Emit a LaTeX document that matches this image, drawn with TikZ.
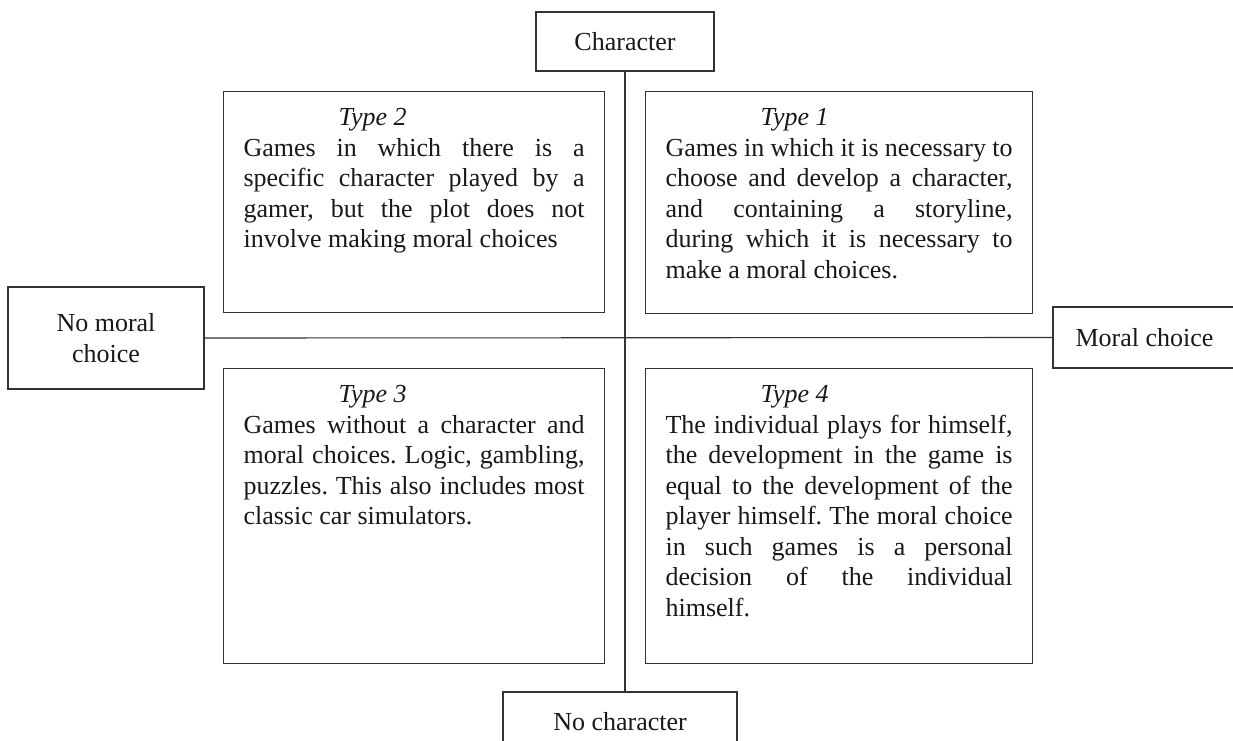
\documentclass[tikz,border=0pt]{standalone}
\usepackage{fontspec}
\setmainfont{Liberation Serif}
\begin{document}
\begin{tikzpicture}[x=1pt,y=-1pt,
  lbl/.style={draw=black!80, line width=1.1pt, inner sep=0pt, align=center,
    font=\fontsize{26}{30.5}\selectfont, text=black!90},
  typebox/.style={draw=black!80, line width=1.1pt, inner xsep=20pt, inner ysep=0pt,
    anchor=north west, font=\fontsize{26}{30.5}\selectfont, text=black!90},
  axis/.style={draw=black!80, line width=1.1pt}]
\useasboundingbox (0,0) rectangle (1233,740);
\clip (0,0) rectangle (1233,740);
\fill[white] (0,0) rectangle (1233,740);

\node[lbl, minimum width=178pt, minimum height=59pt] (char) at (625,41.5) {Character};
\node[lbl, minimum width=234pt, minimum height=59pt] (nochar) at (620,721.5) {No character};
\node[lbl, minimum width=196pt, minimum height=102pt] (nomoral) at (106,338) {No moral\\choice};
\node[lbl, minimum width=183pt, minimum height=61pt] (moral) at (1144.5,337.5) {Moral choice};

\draw[axis] (char.south) -- (char.south |- nochar.north);
\draw[axis] (nomoral.east) -- (moral.west);

\node[typebox] (t2) at (223,91) {\parbox[c][221pt][t]{341pt}{\hyphenpenalty=10000\tolerance=10000\frenchspacing
\rule{0pt}{34pt}\hspace*{95pt}\textit{Type 2}\\
Games in which there is a\linebreak specific character played by a\linebreak gamer, but the plot does not\linebreak involve making moral choices}};

\node[typebox] (t1) at (645,91) {\parbox[c][222pt][t]{347pt}{\hyphenpenalty=10000\tolerance=10000\frenchspacing
\rule{0pt}{34pt}\hspace*{95pt}\textit{Type 1}\\
Games in which it is necessary to\linebreak choose and develop a character,\linebreak and containing a storyline,\linebreak during which it is necessary to\linebreak make a moral choices.}};

\node[typebox] (t3) at (223,368) {\parbox[c][295pt][t]{341pt}{\hyphenpenalty=10000\tolerance=10000\frenchspacing
\rule{0pt}{34pt}\hspace*{95pt}\textit{Type 3}\\
Games without a character and\linebreak moral choices. Logic, gambling,\linebreak puzzles. This also includes most\linebreak classic car simulators.}};

\node[typebox] (t4) at (645,368) {\parbox[c][295pt][t]{347pt}{\hyphenpenalty=10000\tolerance=10000\frenchspacing
\rule{0pt}{34pt}\hspace*{95pt}\textit{Type 4}\\
The individual plays for himself,\linebreak the development in the game is\linebreak equal to the development of the\linebreak player himself. The moral choice\linebreak in such games is a personal\linebreak decision of the individual\linebreak himself.}};
\end{tikzpicture}
\end{document}
